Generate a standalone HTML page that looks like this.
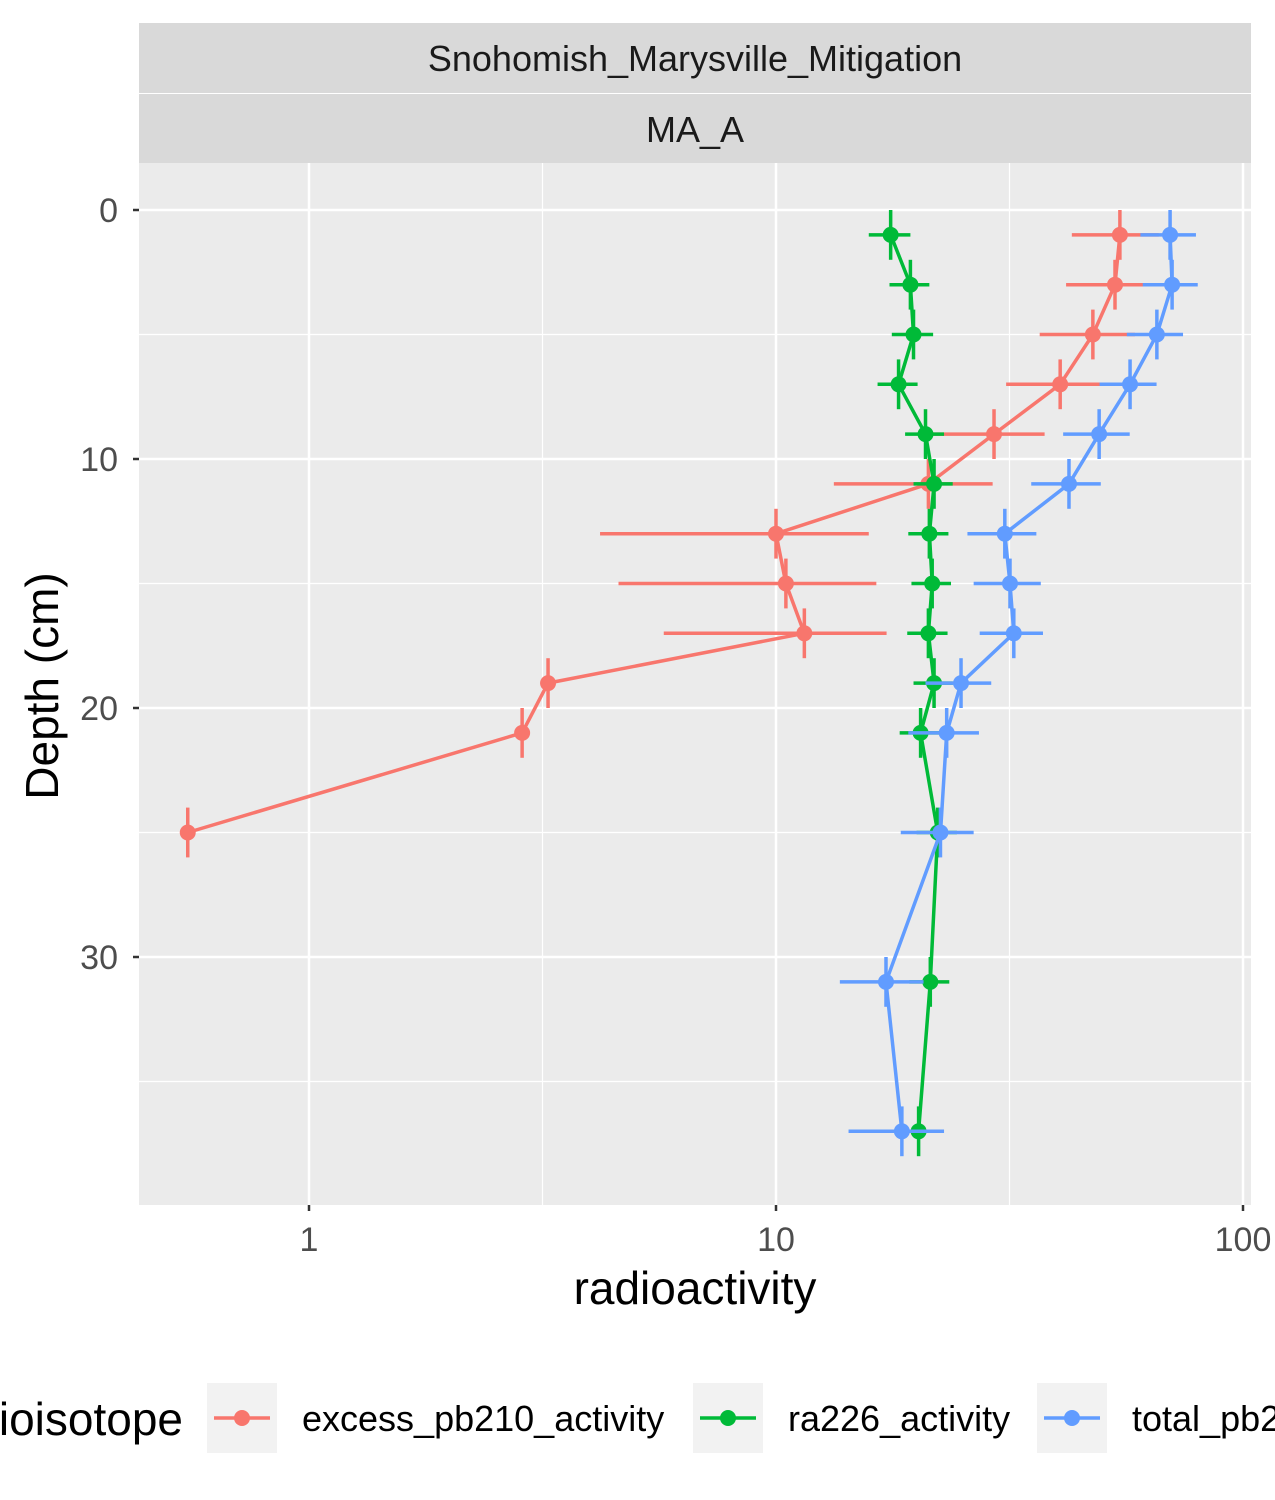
<!DOCTYPE html>
<html><head><meta charset="utf-8"><style>
body{margin:0;background:#fff;}
svg{display:block;font-family:"Liberation Sans",sans-serif;}
</style></head><body>
<svg id="chart" width="1275" height="1500" viewBox="0 0 1275 1500" xmlns="http://www.w3.org/2000/svg">
<rect x="139" y="23" width="1112" height="70" fill="#d9d9d9"/>
<text x="695" y="71" font-size="36" fill="#1a1a1a" text-anchor="middle">Snohomish_Marysville_Mitigation</text>
<rect x="139" y="94" width="1112" height="69" fill="#d9d9d9"/>
<text x="695" y="142" font-size="36" fill="#1a1a1a" text-anchor="middle">MA_A</text>
<rect x="139" y="163" width="1112" height="1042" fill="#ebebeb"/>
<g id="grid"></g>
<g id="series"></g>
<g id="axes"></g>
<text x="695" y="1304" font-size="46" fill="#000" text-anchor="middle">radioactivity</text>
<text transform="translate(58,686) rotate(-90)" font-size="46" fill="#000" text-anchor="middle">Depth (cm)</text>
<g>
<text x="183" y="1435" font-size="46" fill="#000" text-anchor="end">radioisotope</text>
<rect x="207" y="1383" width="70" height="70" fill="#f2f2f2"/>
<line x1="214" y1="1418" x2="270" y2="1418" stroke="#F8766D" stroke-width="3.5"/><circle cx="242" cy="1418" r="8" fill="#F8766D"/>
<text x="302" y="1431" font-size="36" fill="#000">excess_pb210_activity</text>
<rect x="693" y="1383" width="70" height="70" fill="#f2f2f2"/>
<line x1="700" y1="1418" x2="756" y2="1418" stroke="#00BA38" stroke-width="3.5"/><circle cx="728" cy="1418" r="8" fill="#00BA38"/>
<text x="788" y="1431" font-size="36" fill="#000">ra226_activity</text>
<rect x="1037" y="1383" width="70" height="70" fill="#f2f2f2"/>
<line x1="1044" y1="1418" x2="1100" y2="1418" stroke="#619CFF" stroke-width="3.5"/><circle cx="1072" cy="1418" r="8" fill="#619CFF"/>
<text x="1132" y="1431" font-size="36" fill="#000">total_pb210_activity</text>
</g>
</svg>
<script>
const excessDepth=[1,3,5,7,9,11,13,15,17,19,21,25];
const excessVal=[54.5,53.2,47.7,40.6,29.3,21.2,10.0,10.5,11.5,3.25,2.86,0.55];
const excessErr=[11.5,11.4,11,9.5,8.3,7.9,5.8,5.9,5.75,4,4,1];
const raDepth=[1,3,5,7,9,11,13,15,17,19,21,25,31,37];
const raVal=[17.6,19.4,19.7,18.3,20.9,21.8,21.3,21.6,21.2,21.8,20.4,22.2,21.4,20.2];
const raErr=[1.8,1.9,2,1.8,2,2.1,2.1,2.1,2.1,2.1,2,2.2,2.1,2];
const totDepth=[1,3,5,7,9,11,13,15,17,19,21,25,31,37];
const totVal=[69.8,70.5,65.4,57.3,49.2,42.4,30.9,31.7,32.3,24.9,23.2,22.5,17.2,18.6];
const totErr=[9.5,9.5,9,8,8,7.2,5.2,5.2,5,4,4,4,3.5,4.3];
const xTicks=[1,10,100];
const xTickLabels=["1","10","100"];
const yTicks=[0,10,20,30];
const yTickLabels=["0","10","20","30"];

const NS="http://www.w3.org/2000/svg";
const X0=139,X1=1251,Y0=163,Y1=1205;
function xs(v){return 309+467*Math.log10(v);}
function ys(d){return 210+24.9*d;}
function mk(tag,attrs,parent){const e=document.createElementNS(NS,tag);for(const k in attrs)e.setAttribute(k,attrs[k]);parent.appendChild(e);return e;}
const grid=document.getElementById('grid'),axes=document.getElementById('axes'),ser=document.getElementById('series');
[5,15,25,35].forEach(d=>{const l=mk('line',{x1:X0,x2:X1,y1:ys(d),y2:ys(d),stroke:'#fff','stroke-width':1.2},grid);

});
[Math.sqrt(10),Math.sqrt(1000)].forEach(v=>{const l=mk('line',{x1:xs(v),x2:xs(v),y1:Y0,y2:Y1,stroke:'#fff','stroke-width':1.2},grid);

});
yTicks.forEach((d,i)=>{const l=mk('line',{x1:X0,x2:X1,y1:ys(d),y2:ys(d),stroke:'#fff','stroke-width':2.5},grid);


const t=mk('line',{x1:X0-6,x2:X0,y1:ys(d),y2:ys(d),stroke:'#333','stroke-width':2.5},axes);


const tx=mk('text',{x:X0-21,y:ys(d)+12,'font-size':34,fill:'#4d4d4d','text-anchor':'end'},axes);tx.textContent=yTickLabels[i];

});
xTicks.forEach((v,i)=>{const l=mk('line',{x1:xs(v),x2:xs(v),y1:Y0,y2:Y1,stroke:'#fff','stroke-width':2.5},grid);


const t=mk('line',{x1:xs(v),x2:xs(v),y1:Y1,y2:Y1+6,stroke:'#333','stroke-width':2.5},axes);


const tx=mk('text',{x:xs(v),y:Y1+46,'font-size':34,fill:'#4d4d4d','text-anchor':'middle'},axes);tx.textContent=xTickLabels[i];

});
function series(name,depth,val,err,color){
  const g=mk('g',{},ser);
  
  
  const pts=depth.map((d,i)=>xs(val[i]).toFixed(1)+','+ys(d).toFixed(1)).join(' ');
  const pl=mk('polyline',{points:pts,fill:'none',stroke:color,'stroke-width':3.5},g);
  
  
  depth.forEach((d,i)=>{
    const v=val[i],e=err[i];
    if(v-e>0){const h=mk('line',{x1:xs(v-e),x2:xs(v+e),y1:ys(d),y2:ys(d),stroke:color,'stroke-width':3.5},g);
      
      }
    const vb=mk('line',{x1:xs(v),x2:xs(v),y1:ys(d-1),y2:ys(d+1),stroke:color,'stroke-width':3.5},g);
    
    
    const c=mk('circle',{cx:xs(v),cy:ys(d),r:8,fill:color},g);
    
    
  });
}
series('excess-pb210',excessDepth,excessVal,excessErr,'#F8766D');
series('ra226',raDepth,raVal,raErr,'#00BA38');
series('total-pb210',totDepth,totVal,totErr,'#619CFF');
</script>
</body></html>
